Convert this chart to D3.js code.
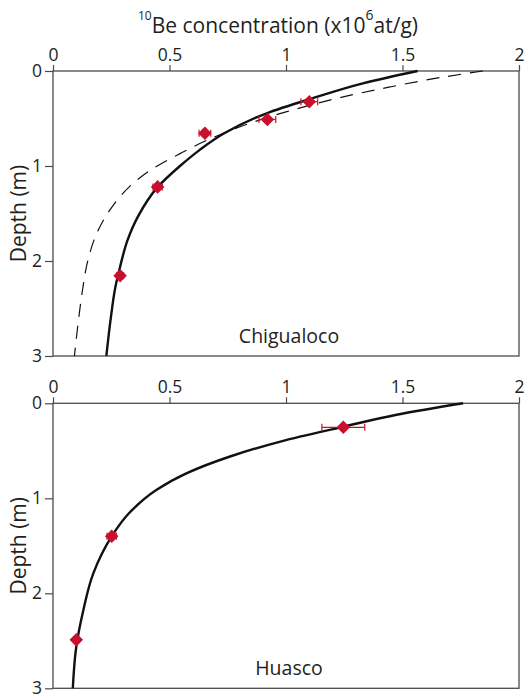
<!DOCTYPE html>
<html><head><meta charset="utf-8">
<script src="https://cdn.jsdelivr.net/npm/d3@7"></script>
<style>
body{margin:0;background:#fff}
text{font-family:"Open Sans",sans-serif;fill:#231f20}
</style>
</head><body>
<svg id="c" width="527" height="695"></svg>
<script>
// ---- data ----
const xTickValues = [0, 0.5, 1, 1.5, 2];
const xTickLabels = ["0", "0.5", "1", "1.5", "2"];
const yTickValues = [0, 1, 2, 3];
const yTickLabels = ["0", "1", "2", "3"];
const panelNames = ["Chigualoco", "Huasco"];

// Chigualoco model (solid)
const chiSolidDepth = [0, 0.13, 0.29, 0.445, 0.656, 0.83, 1.0, 1.22, 1.53, 1.78, 2.06, 2.27, 2.62, 3.0];
const chiSolidConc  = [1.565, 1.33, 1.11, 0.917, 0.735, 0.63, 0.545, 0.45, 0.365, 0.32, 0.288, 0.268, 0.247, 0.229];
// Chigualoco alternative model (dashed)
const chiDashDepth = [0, 0.07, 0.168, 0.27, 0.43, 0.55, 0.73, 0.87, 1.04, 1.18, 1.46, 1.67, 1.99, 2.3, 2.55, 3.0];
const chiDashConc  = [1.845, 1.66, 1.446, 1.25, 1.0, 0.845, 0.66, 0.545, 0.42, 0.345, 0.245, 0.195, 0.15, 0.127, 0.113, 0.092];
// Chigualoco samples
const chiSampleDepth = [0.323, 0.51, 0.656, 1.22, 2.155];
const chiSampleConc  = [1.10, 0.92, 0.652, 0.449, 0.288];
const chiSampleErr   = [0.036, 0.036, 0.025, 0.02, 0.015];

// Huasco model (solid)
const huaSolidDepth = [0, 0.12, 0.25, 0.40, 0.56, 0.74, 0.91, 1.16, 1.40, 1.79, 2.18, 2.56, 3.0];
const huaSolidConc  = [1.76, 1.475, 1.24, 0.98, 0.76, 0.57, 0.445, 0.325, 0.252, 0.173, 0.13, 0.10, 0.085];
// Huasco samples
const huaSampleDepth = [0.253, 1.40, 2.49];
const huaSampleConc  = [1.246, 0.252, 0.10];
const huaSampleErr   = [0.092, 0.02, 0.01];

// ---- drawing ----
const svg = d3.select("#c");
const red = "#c8102e";
const frameColor = "#4a4a4a";
const x = d3.scaleLinear().domain([0, 2]).range([53, 519]);

const panels = [
  {name: panelNames[0], top: 71,
   lines: [{depth: chiSolidDepth, conc: chiSolidConc, dashed: false},
           {depth: chiDashDepth, conc: chiDashConc, dashed: true}],
   samples: {depth: chiSampleDepth, conc: chiSampleConc, err: chiSampleErr}},
  {name: panelNames[1], top: 403.3,
   lines: [{depth: huaSolidDepth, conc: huaSolidConc, dashed: false}],
   samples: {depth: huaSampleDepth, conc: huaSampleConc, err: huaSampleErr}}
];

panels.forEach(p => {
  const y = d3.scaleLinear().domain([0, 3]).range([p.top, p.top + 285]);
  const g = svg.append("g");

  // frame
  g.append("rect")
    .attr("x", x(0)).attr("y", y(0))
    .attr("width", x(2) - x(0)).attr("height", y(3) - y(0))
    .attr("fill", "none").attr("stroke", frameColor).attr("stroke-width", 1.3);

  // top axis
  const ax = g.append("g").attr("transform", `translate(0,${y(0)})`)
    .call(d3.axisTop(x).tickValues(xTickValues).tickSize(6).tickSizeOuter(0).tickPadding(4)
      .tickFormat((d, i) => xTickLabels[i]));
  ax.select(".domain").remove();
  ax.selectAll(".tick line").attr("stroke", frameColor).attr("stroke-width", 1.2);
  ax.selectAll(".tick text").attr("font-size", 17.5).attr("font-family", '"Open Sans",sans-serif').attr("fill", "#231f20");

  // left axis
  const ay = g.append("g").attr("transform", `translate(${x(0)},0)`)
    .call(d3.axisLeft(y).tickValues(yTickValues).tickSize(8).tickSizeOuter(0).tickPadding(3)
      .tickFormat((d, i) => yTickLabels[i]));
  ay.select(".domain").remove();
  ay.selectAll(".tick line").attr("stroke", frameColor).attr("stroke-width", 1.2);
  ay.selectAll(".tick text").attr("font-size", 17.5).attr("font-family", '"Open Sans",sans-serif').attr("fill", "#231f20");

  // y label
  g.append("text")
    .attr("transform", `translate(26,${(y(0) + y(3)) / 2}) rotate(-90)`)
    .attr("text-anchor", "middle").attr("font-size", 21)
    .text("Depth (m)");

  // model curves
  const line = d3.line().x(d => x(d[1])).y(d => y(d[0])).curve(d3.curveMonotoneY);
  p.lines.forEach(l => {
    const pts = l.depth.map((d, i) => [d, l.conc[i]]);
    g.append("path").datum(pts).attr("d", line)
      .attr("fill", "none").attr("stroke", "#111")
      .attr("stroke-width", l.dashed ? 1.2 : 2.4)
      .attr("stroke-dasharray", l.dashed ? "13,9" : null);
  });

  // samples with error bars
  const s = p.samples;
  const sp = s.depth.map((d, i) => ({z: d, c: s.conc[i], e: s.err[i]}));
  const eb = g.append("g").attr("stroke", red).attr("stroke-width", 1.2);
  sp.forEach(d => {
    eb.append("line").attr("x1", x(d.c - d.e)).attr("x2", x(d.c + d.e)).attr("y1", y(d.z)).attr("y2", y(d.z));
    [d.c - d.e, d.c + d.e].forEach(v => {
      eb.append("line").attr("x1", x(v)).attr("x2", x(v)).attr("y1", y(d.z) - 3.5).attr("y2", y(d.z) + 3.5);
    });
  });
  g.selectAll("path.pt").data(sp).join("path").attr("class", "pt")
    .attr("d", d3.symbol(d3.symbolSquare, 92))
    .attr("transform", d => `translate(${x(d.c)},${y(d.z)}) rotate(45)`)
    .attr("fill", red);

  // panel label
  g.append("text").attr("x", 289).attr("y", y(3) - 13)
    .attr("text-anchor", "middle").attr("font-size", 19.5).text(p.name);
});

// title
const t = svg.append("text").attr("x", 278).attr("y", 33).attr("text-anchor", "middle").attr("font-size", 21);
t.append("tspan").attr("font-size", 12).attr("dy", -13).text("10");
t.append("tspan").attr("dy", 13).text("Be concentration (x10");
t.append("tspan").attr("font-size", 14).attr("dy", -13).text("6");
t.append("tspan").attr("dy", 13).text("at/g)");
</script>
</body></html>
